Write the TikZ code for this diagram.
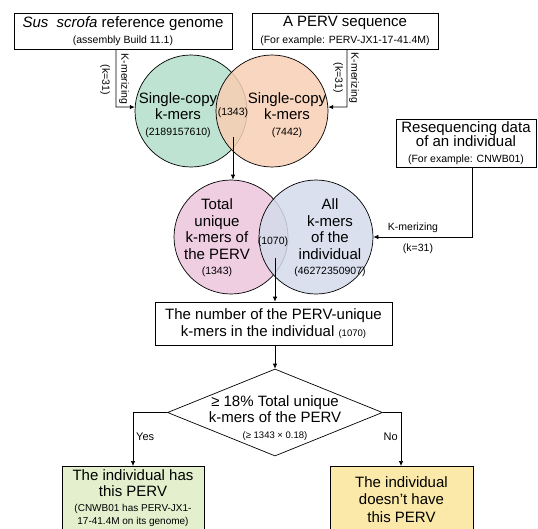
\documentclass[tikz,border=0pt]{standalone}
\usepackage{fontspec}
\setmainfont{Liberation Sans}
\usetikzlibrary{arrows.meta,shapes.geometric,positioning}

\definecolor{scgreen}{RGB}{190,227,211}
\definecolor{scorange}{RGB}{248,207,180}
\definecolor{tupink}{RGB}{239,206,225}
\definecolor{akblue}{RGB}{211,219,235}
\definecolor{hasgreen}{RGB}{227,239,205}
\definecolor{notyellow}{RGB}{250,233,168}

\newcommand{\bigt}{\fontsize{15}{16.5}\selectfont}
\newcommand{\smallt}{\fontsize{10.5}{12}\selectfont}
\newcommand{\tinyt}{\fontsize{9.5}{11}\selectfont}

\tikzset{
	box/.style={draw, line width=0.7pt, align=center, inner sep=0pt, font=\bigt},
	venn/.style={circle, draw, line width=0.7pt, minimum size=#1, inner sep=0pt},
	txt/.style={align=center, inner sep=0pt, font=\bigt},
	arr/.style={line width=0.7pt, -{Latex[length=5pt,width=4.5pt]}},
}

\begin{document}
\begin{tikzpicture}[x=1pt,y=-1pt]
		\useasboundingbox (0,0) rectangle (538,528);

		% input boxes
		\node[box, minimum width=218pt, minimum height=36pt] (refgenome) at (123,31)
			{\textit{Sus\ \ scrofa} reference genome\\{\smallt(assembly Build 11.1)}};
		\node[box, minimum width=186pt, minimum height=36pt] (pervseq) at (345,31)
			{A PERV sequence\\{\smallt(For example: PERV-JX1-17-41.4M)}};
		\node[box, minimum width=140pt, minimum height=48pt] (reseq) at (466,143)
			{Resequencing data\\[-2pt]of an individual\\[-1pt]{\smallt(For example: CNWB01)}};

		% first venn
		\node[venn=112pt, fill=scgreen] (scgen) at (191,111) {};
		\node[venn=112pt, fill=scorange, fill opacity=0.85] (scperv) at (272,111) {};
		\node[txt] (scgentxt) at (178,115) {Single-copy\\k-mers\\[-1pt]{\smallt(2189157610)}};
		\node[txt] (scpervtxt) at (287,115) {Single-copy\\k-mers\\[-1pt]{\smallt(7442)}};
		\node[txt] (common1) at (233,113) {\smallt(1343)};

		\coordinate (kmer1) at (116,107);
		\coordinate (kmer2) at (347,107);
		\draw[arr] (refgenome.south -| kmer1) -- (kmer1) -- (scgen.176);
		\draw[arr] (pervseq.south -| kmer2) -- (kmer2) -- (scperv.4);
		\node[txt, rotate=-90] (kmerlbl1) at (124,79) {\smallt K-merizing};
		\node[txt, rotate=-90] (klbl1) at (105,80) {\smallt(k=31)};
		\node[txt, rotate=-90] (klbl2) at (338,78) {\smallt(k=31)};
		\node[txt, rotate=-90] (kmerlbl2) at (354,78) {\smallt K-merizing};

		% second venn
		\node[venn=114pt, fill=tupink] (tuperv) at (231,237) {};
		\node[venn=114pt, fill=akblue, fill opacity=0.85] (akind) at (316,237) {};
		\node[txt] (tupervtxt) at (217,238) {Total\\unique\\k-mers of\\the PERV\\[-1pt]{\smallt(1343)}};
		\node[txt] (akindtxt) at (330,238) {All\\k-mers\\of the\\individual\\[-1pt]{\smallt(46272350907)}};
		\node[txt] (common2) at (273,242) {\smallt(1070)};

		\coordinate (down1) at (233,137);
		\draw[arr] (down1) -- (tuperv.north -| down1);

		\coordinate (kmer3) at (472,237);
		\draw[arr] (reseq.south -| kmer3) -- (kmer3) -- (akind.east);
		\node[txt] (kmerlbl3) at (413,228) {\smallt K-merizing};
		\node[txt] (klbl3) at (418,249) {\smallt(k=31)};

		% count and decision
		\node[box, minimum width=237pt, minimum height=43pt] (count) at (273.5,323.5)
			{The number of the PERV-unique\\k-mers in the individual {\tinyt(1070)}};
		\coordinate (down2) at (275,258);
		\draw[arr] (down2) -- (count.north -| down2);

		\node[diamond, draw, line width=0.7pt, minimum width=215pt, minimum height=87pt, inner sep=0pt] (check) at (275,412.5) {};
		\node[txt] (checktxt) at (275,418) {≥ 18\% Total unique\\k-mers of the PERV\\[-1pt]{\tinyt(≥ 1343 × 0.18)}};
		\draw[arr] (count.south -| check.north) -- (check.north);

		% outcomes
		\node[box, fill=hasgreen, minimum width=142pt, minimum height=80pt, anchor=north] (hasperv) at (133,466) {};
		\node[box, fill=notyellow, minimum width=143pt, minimum height=80pt, anchor=north] (noperv) at (401.5,466) {};
		\node[txt, anchor=north] (haspervtxt) at (133,469)
			{The individual has\\[0pt]this PERV\\[-2pt]{\fontsize{10}{11.5}\selectfont(CNWB01 has PERV-JX1-}\\[-3.5pt]{\fontsize{10}{11.5}\selectfont 17-41.4M on its genome)}};
		\node[txt, anchor=north] (nopervtxt) at (401.5,476)
			{The individual\\[1pt]doesn’t have\\[1pt]this PERV};

		\coordinate (yescorner) at (133,412.5);
		\coordinate (nocorner) at (401,412.5);
		\draw[arr] (check.west) -- (yescorner) -- (hasperv.north -| yescorner);
		\draw[arr] (check.east) -- (nocorner) -- (noperv.north -| nocorner);
		\node[txt, anchor=west] (yeslbl) at (136,437) {\fontsize{11}{13}\selectfont Yes};
		\node[txt, anchor=east] (nolbl) at (398,437) {\fontsize{11}{13}\selectfont No};
	\end{tikzpicture}
\end{document}
